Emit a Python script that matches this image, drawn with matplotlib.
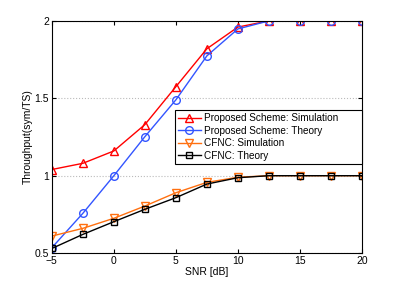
import numpy as np
import matplotlib.pyplot as plt

plt.rcParams['font.family'] = ['Liberation Sans', 'DejaVu Sans']

snr = [-5, -2.5, 0, 2.5, 5, 7.5, 10, 12.5, 15, 17.5, 20]
prop_sim = [1.04, 1.08, 1.16, 1.33, 1.575, 1.82, 1.96, 2.0, 2.0, 2.0, 2.0]
prop_theory = [0.535, 0.757, 1.0, 1.252, 1.49, 1.774, 1.948, 2.0, 2.0, 2.0, 2.0]
cfnc_sim = [0.61, 0.66, 0.725, 0.804, 0.89, 0.957, 0.99, 1.0, 1.0, 1.0, 1.0]
cfnc_theory = [0.53, 0.621, 0.703, 0.783, 0.858, 0.946, 0.987, 1.0, 1.0, 1.0, 1.0]

fig = plt.figure(figsize=(3.99, 2.86), dpi=100)
ax = fig.add_axes([0.13, 0.115, 0.777, 0.812])

ax.plot(snr, prop_sim, color='#ff0000', marker='^', mfc='none', ms=6, lw=1,
        label='Proposed Scheme: Simulation')
ax.plot(snr, prop_theory, color='#3355ff', marker='o', mfc='none', ms=5.5, lw=1,
        label='Proposed Scheme: Theory')
ax.plot(snr, cfnc_sim, color='#ff7010', marker='v', mfc='none', ms=6, lw=1,
        label='CFNC: Simulation')
ax.plot(snr, cfnc_theory, color='black', marker='s', mfc='none', ms=4.5, lw=1,
        label='CFNC: Theory')

ax.set_xlim(-5, 20)
ax.set_ylim(0.5, 2)
ax.set_xticks([-5, 0, 5, 10, 15, 20])
ax.set_yticks([0.5, 1, 1.5, 2])
ax.set_yticklabels(['0.5', '1', '1.5', '2'])
ax.yaxis.grid(True, linestyle=':', color='#bbbbbb', lw=0.8)
ax.tick_params(direction='in', labelsize=7.5, length=3, top=True, right=True, pad=2)
for s in ax.spines.values():
    s.set_linewidth(0.8)

ax.set_xlabel('SNR [dB]', fontsize=7.5, labelpad=1)
ax.set_ylabel('Throughput(sym/TS)', fontsize=7.5, labelpad=1)

# legend box spans from x=0.397 to the right edge of the axes
leg = ax.legend(loc='center left', bbox_to_anchor=(0.397, 0.30, 0.603, 0.40),
                mode='expand', fontsize=7.2,
                fancybox=False, edgecolor='black', framealpha=1, borderpad=0.3,
                labelspacing=0.25, handlelength=2.3, handletextpad=0.3,
                borderaxespad=0)
leg.get_frame().set_linewidth(0.8)

fig.savefig('out.png', dpi=100)
